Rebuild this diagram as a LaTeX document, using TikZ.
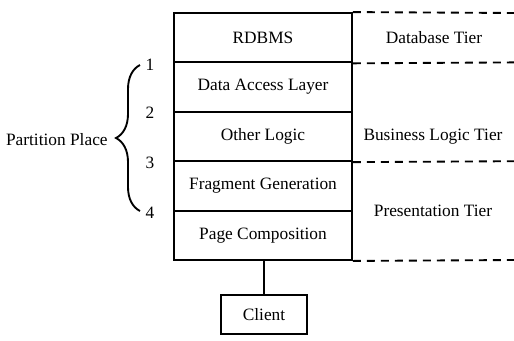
\documentclass[tikz,border=0pt]{standalone}
\usepackage{fontspec}
\setmainfont{Liberation Serif}
\usetikzlibrary{decorations.pathreplacing}

\tikzset{every picture/.style={line width=1.4pt}}
\tikzset{
  layer/.style={draw, minimum width=133.5pt, minimum height=37.05pt, inner sep=0pt, font=\fontsize{13}{15}\selectfont},
  tierlabel/.style={font=\fontsize{13}{15}\selectfont},
  tierline/.style={dashed, dash pattern=on 6pt off 4.5pt},
}

\begin{document}
\begin{tikzpicture}[x=0.75pt,y=0.75pt,yscale=-1,xscale=1]
\useasboundingbox (0,0) rectangle (514,340);

%Stack of layers
\node [layer] (rdbms) at (263,37.7) {RDBMS};
\node [layer] (dal) at (263,87.1) {Data Access Layer};
\node [layer] (other) at (263,136.5) {Other Logic};
\node [layer] (frag) at (263,185.9) {Fragment Generation};
\node [layer] (page) at (263,235.3) {Page Composition};

%Client box
\node [draw, minimum width=65pt, minimum height=29.25pt, inner sep=0pt, tierlabel] (client) at (264,314.5) {Client};
\draw (client.north |- page.south) -- (client.north) ;

%Dashed tier boundaries
\coordinate (d1) at (514,13);
\coordinate (d2) at (514,62.4);
\coordinate (d3) at (514,161.2);
\coordinate (d4) at (514,260);
\draw [tierline] (rdbms.north east) -- (d1) ;
\draw [tierline] (rdbms.south east) -- (d2) ;
\draw [tierline] (other.south east) -- (d3) ;
\draw [tierline] (page.south east) -- (d4) ;

% Text Node
\node [tierlabel] (dbtier) at (434,37.7) {Database Tier};
% Text Node
\node [tierlabel] (bltier) at (433,137) {Business Logic Tier};
% Text Node
\node [tierlabel] (prtier) at (433,211) {Presentation Tier};

%Partition places
\node [tierlabel] (p1) at (150,65) {1};
\node [tierlabel] (p2) at (150,113) {2};
\node [tierlabel] (p3) at (150,163) {3};
\node [tierlabel] (p4) at (150,213) {4};

%Brace
\draw [decorate, decoration={brace, amplitude=18pt}] (140,211) -- (140,65) ;
% Text Node
\node [tierlabel, anchor=east] (partition) at (113,140) {Partition Place};

\end{tikzpicture}
\end{document}
